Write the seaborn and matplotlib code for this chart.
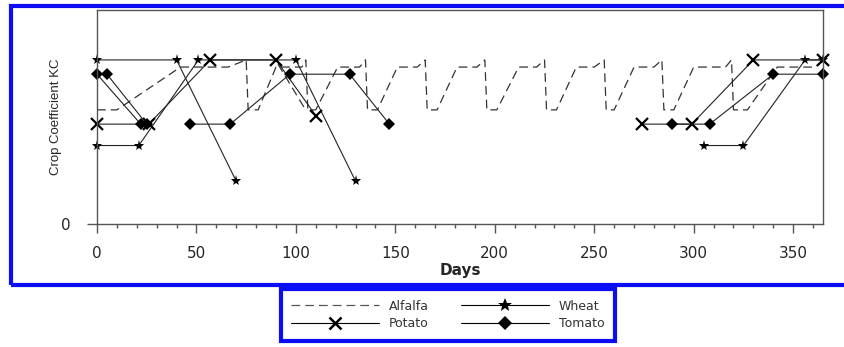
import numpy as np
import matplotlib
matplotlib.use("Agg")
import matplotlib.pyplot as plt
from matplotlib.lines import Line2D
from matplotlib.patches import Rectangle
from matplotlib.ticker import MultipleLocator
import pandas as pd
import seaborn as sns

# alfalfa: cut every ~30 days
alfalfa_day = [0, 10, 42, 66, 75, 76, 81, 90, 103, 105, 106, 110, 121, 132, 135, 136, 141,
               151, 161, 165, 166, 171, 181, 191, 195, 196, 201, 212, 221, 225, 226, 231,
               241, 250, 255, 256, 260, 270, 280, 284, 285, 290, 300, 316, 319, 320, 327,
               342, 361, 365]
alfalfa_kc = [0.80, 0.80, 1.10, 1.10, 1.15, 0.80, 0.80, 1.10, 1.10, 1.15, 0.80, 0.80, 1.10,
              1.10, 1.15, 0.80, 0.80, 1.10, 1.10, 1.15, 0.80, 0.80, 1.10, 1.10, 1.15, 0.80,
              0.80, 1.10, 1.10, 1.15, 0.80, 0.80, 1.10, 1.10, 1.15, 0.80, 0.80, 1.10, 1.10,
              1.15, 0.80, 0.80, 1.10, 1.10, 1.15, 0.80, 0.80, 1.10, 1.10, 1.15]
alfalfa_x_day = [91, 104]
alfalfa_x_kc = [1.12, 0.82]

wheat_a_day = [305, 325, 356, 365]
wheat_a_kc = [0.55, 0.55, 1.15, 1.15]
wheat_b_day = [0, 40, 70]
wheat_b_kc = [1.15, 1.15, 0.30]
wheat_c_day = [0, 21, 51, 100, 130]
wheat_c_kc = [0.55, 0.55, 1.15, 1.15, 0.30]

potato_a_day = [0, 26, 57, 90, 110]
potato_a_kc = [0.70, 0.70, 1.15, 1.15, 0.76]
potato_b_day = [274, 299, 330, 365]
potato_b_kc = [0.70, 0.70, 1.15, 1.15]

tomato_a_day = [47, 67, 97, 127, 147]
tomato_a_kc = [0.70, 0.70, 1.05, 1.05, 0.70]
tomato_b_day = [289, 308, 340, 365]
tomato_b_kc = [0.70, 0.70, 1.05, 1.05]
tomato_c_day = [0, 22]
tomato_c_kc = [1.05, 0.70]
tomato_d_day = [5, 25]
tomato_d_kc = [1.05, 0.70]


def juntar(*segs):
    partes = []
    for i, (d, k) in enumerate(segs):
        partes.append(pd.DataFrame({"day": d, "kc": k, "seg": i}))
    return pd.concat(partes, ignore_index=True)


alfalfa = juntar((alfalfa_day, alfalfa_kc), (alfalfa_x_day, alfalfa_x_kc))
wheat = juntar((wheat_a_day, wheat_a_kc), (wheat_b_day, wheat_b_kc), (wheat_c_day, wheat_c_kc))
potato = juntar((potato_a_day, potato_a_kc), (potato_b_day, potato_b_kc))
tomato = juntar((tomato_a_day, tomato_a_kc), (tomato_b_day, tomato_b_kc),
                (tomato_c_day, tomato_c_kc), (tomato_d_day, tomato_d_kc))

sns.set_style("white")
plt.rcParams["font.family"] = ["DejaVu Sans"]

fig = plt.figure(figsize=(8.45, 3.47), dpi=100)
ax = fig.add_axes([97 / 845, 1 - 224 / 347, (823 - 97) / 845, (224 - 10) / 347])

tracos = "#222222"
sns.lineplot(data=alfalfa, x="day", y="kc", units="seg", estimator=None, sort=False,
             color="#333333", lw=0.9, linestyle=(0, (7, 4)), ax=ax, legend=False)
sns.lineplot(data=wheat, x="day", y="kc", units="seg", estimator=None, sort=False,
             color=tracos, lw=0.8, marker="*", markersize=8, markeredgewidth=0,
             markerfacecolor="black", ax=ax, legend=False, clip_on=False)
sns.lineplot(data=potato, x="day", y="kc", units="seg", estimator=None, sort=False,
             color=tracos, lw=0.8, marker="x", markersize=8, markeredgewidth=1.6,
             markeredgecolor="black", ax=ax, legend=False, clip_on=False)
sns.lineplot(data=tomato, x="day", y="kc", units="seg", estimator=None, sort=False,
             color=tracos, lw=0.8, marker="D", markersize=6.5, markeredgewidth=0,
             markerfacecolor="black", ax=ax, legend=False, clip_on=False)

ax.set_xlim(0, 365)
ax.set_ylim(0, 1.5)
ax.set_xticks(range(0, 351, 50))
ax.xaxis.set_minor_locator(MultipleLocator(10))
ax.set_yticks([0])
ax.set_yticklabels(["0"])
ax.tick_params(axis="x", which="major", direction="out", length=6.5, width=1, color="#555555",
               labelsize=11, pad=9, bottom=True)
ax.tick_params(axis="x", which="minor", direction="out", length=3, width=1, color="#555555",
               bottom=True)
ax.tick_params(axis="y", which="major", direction="out", length=7, width=1, color="#555555",
               labelsize=11, pad=12, left=True)
for lado in ax.spines.values():
    lado.set_color("#555555")
    lado.set_linewidth(1)

ax.set_xlabel("Days", fontsize=11, fontweight="bold", labelpad=2)
ax.set_ylabel("Crop Coefficient KC", fontsize=9.5, family="Liberation Sans")
ax.yaxis.set_label_coords(-0.048, 0.5)
ax.set_facecolor("white")

# moldura azul externa
fig.patches.append(Rectangle((11 / 845, 1 - 285 / 347), 1.0, (285 - 6) / 347, fill=False,
                             edgecolor="#0c0cf5", lw=3, transform=fig.transFigure,
                             figure=fig))

maos = [
    Line2D([], [], color="#555555", lw=0.9, linestyle=(0, (7, 4))),
    Line2D([], [], color="black", lw=0.8, marker="x", markersize=8, markeredgewidth=1.8),
    Line2D([], [], color="black", lw=0.8, marker="*", markersize=10, markeredgewidth=0),
    Line2D([], [], color="black", lw=0.8, marker="D", markersize=7, markeredgewidth=0),
]
rotulos = ["Alfalfa", "Potato", "Wheat", "Tomato"]
leg = fig.legend(maos, rotulos, ncol=2, loc="center", bbox_to_anchor=(448 / 845, 1 - 315 / 347),
                 fontsize=9, frameon=True, fancybox=False, framealpha=1, handlelength=7,
                 handletextpad=0.8, columnspacing=2.6, labelspacing=0.35, borderpad=0.85,
                 numpoints=1)
leg.get_frame().set_edgecolor("#0c0cf5")
leg.get_frame().set_linewidth(3)
for t in leg.get_texts():
    t.set_color("#333333")

fig.savefig("out.png", dpi=100, facecolor="white")
